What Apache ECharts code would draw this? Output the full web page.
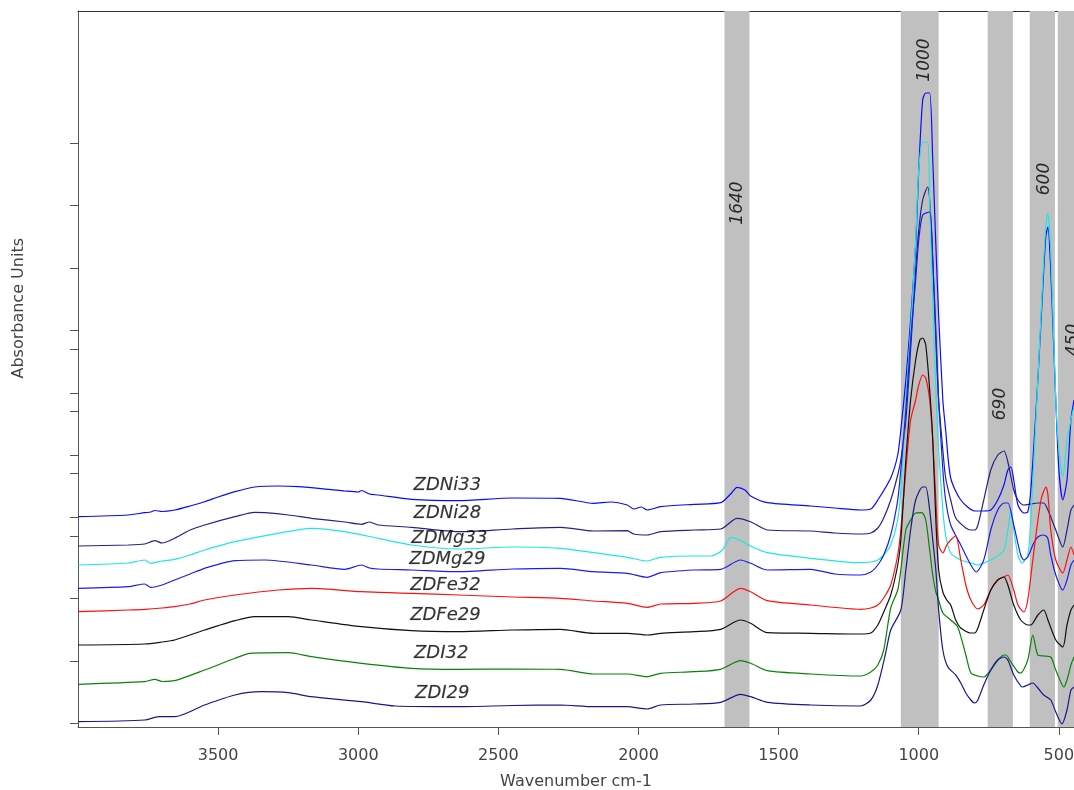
<!DOCTYPE html>
<html><head><meta charset="utf-8">
<script src="https://cdn.jsdelivr.net/npm/echarts@6/dist/echarts.min.js"></script>
<style>html,body{margin:0;padding:0;background:#fff}#c{width:1074px;height:790px}</style>
</head><body><div id="c"></div>
<script>
// wavenumber (cm-1), absorbance (arbitrary units, offset stacked)
const ZDNi33 = [[4000,210.3],[3821,212],[3762,214.3],[3740,215],[3726,216.5],[3700,215.5],[3655,217],[3600,221],[3548,225.3],[3500,230],[3440,235.3],[3369,240],[3286,241],[3214,240.3],[3107,237.7],[3048,236],[3000,235],[2988,236.5],[2960,233],[2929,232],[2810,227.7],[2643,226.3],[2450,229],[2279,228.7],[2160,223.7],[2100,225],[2040,222],[2017,218],[1990,220],[1969,217],[1921,220.3],[1802,222.7],[1707,224.3],[1671,233],[1648,239.7],[1620,237],[1600,231],[1540,224.3],[1386,221],[1300,219],[1207,217],[1171,218],[1146,227],[1100,249],[1075,272],[1064,297],[1046,347],[1029,407],[1011,482],[1000,557],[986,627],[975,634],[961,634],[950,567],[939,482],[929,412],[914,327],[904,297],[886,249],[850,227],[800,216],[768,216],[743,217],[718,227],[696,242],[682,257],[671,260],[661,247],[646,222],[625,214],[611,215],[600,237],[575,347],[554,457],[546,492],[539,500],[529,457],[511,327],[500,257],[486,227],[471,247],[457,307],[446,327]];
const ZDNi28 = [[4000,181],[3821,182],[3762,183],[3726,186.3],[3700,184],[3655,188.7],[3600,197],[3548,202],[3440,210.3],[3369,214.7],[3333,214.3],[3250,212],[3167,208.7],[3048,205],[2988,202.7],[2960,205],[2929,202],[2810,199.7],[2643,195.3],[2450,198],[2279,199.7],[2160,196],[2040,196.3],[2017,193],[1969,192],[1921,195.3],[1802,197],[1707,198],[1648,208.7],[1600,205.3],[1540,197],[1386,196],[1300,194],[1207,193],[1171,194],[1146,199],[1125,209],[1100,227],[1075,252],[1064,267],[1046,307],[1029,377],[1011,457],[1000,497],[986,527],[968,540],[961,527],[950,467],[939,387],[929,327],[914,277],[904,249],[886,227],[868,209],[832,199],[814,197],[800,197],[789,202],[768,227],[743,257],[718,272],[696,276],[682,265],[661,237],[646,227],[625,222],[600,223],[575,224],[554,224],[539,217],[511,197],[486,180],[471,197],[457,217],[446,222]];
const ZDMg33 = [[4000,162],[3821,164],[3762,167],[3740,163.7],[3700,166],[3655,167.7],[3600,172],[3548,177],[3440,185.3],[3286,193.7],[3167,198.7],[3048,195.3],[2929,188.7],[2810,182],[2643,178],[2450,180],[2279,178.7],[2160,174.3],[2040,169.7],[1969,166],[1921,169.7],[1802,171],[1740,171],[1700,177],[1671,189.7],[1640,187],[1600,181],[1540,174.3],[1386,168.7],[1207,164.3],[1171,165],[1146,167],[1125,172],[1100,182],[1075,207],[1064,237],[1046,327],[1029,397],[1011,487],[1000,557],[986,585],[968,585],[961,527],[950,427],[939,337],[929,277],[914,217],[904,192],[886,174],[850,167],[814,164],[789,162],[768,164],[743,167],[718,171],[696,177],[682,197],[671,217],[661,197],[646,172],[632,164],[611,172],[600,207],[575,347],[554,467],[546,502],[540,514],[529,477],[511,327],[500,277],[486,250],[471,287],[457,307],[446,320]];
const ZDMg29 = [[4000,138.7],[3821,140.3],[3762,143],[3740,139.7],[3700,142],[3655,147],[3600,153],[3548,158.7],[3440,166.3],[3333,167],[3167,162],[3048,157.7],[2988,162],[2960,159],[2929,158],[2810,157],[2643,155.3],[2450,158],[2279,158.7],[2160,155.3],[2040,153.7],[1969,149.7],[1921,154.3],[1802,157],[1707,157.7],[1636,167],[1600,163.7],[1540,157],[1386,157.7],[1300,153],[1207,152],[1171,155],[1146,162],[1125,172],[1100,192],[1075,227],[1064,257],[1046,317],[1029,387],[1011,447],[1000,487],[986,512],[961,515],[950,467],[939,397],[929,327],[914,257],[904,227],[886,202],[850,182],[814,162],[795,155],[768,167],[743,197],[718,217],[696,224],[682,224],[661,202],[636,172],[625,167],[611,170],[593,182],[575,190],[554,192],[540,189],[529,172],[511,152],[486,137],[471,147],[457,162],[446,167]];
const ZDFe32 = [[4000,115.3],[3821,117],[3762,117.7],[3700,119],[3655,120.3],[3600,123],[3548,127],[3440,132],[3286,137],[3167,138.7],[2988,135.3],[2810,133.7],[2643,132],[2450,130],[2279,128.7],[2160,126],[2040,123.7],[1969,119.7],[1921,123],[1802,123.7],[1707,126],[1636,138.7],[1600,135.3],[1540,126.3],[1386,122],[1207,117.7],[1171,119],[1146,122],[1125,129],[1100,142],[1075,172],[1064,197],[1046,257],[1029,307],[1011,327],[1000,342],[986,352],[975,349],[961,327],[950,287],[939,227],[929,182],[914,174],[900,182],[886,187],[868,191],[850,167],[832,142],[814,127],[789,118],[768,122],[743,137],[718,147],[696,150],[682,152],[661,137],[646,122],[625,115],[611,127],[593,167],[564,227],[546,240],[539,232],[529,197],[511,167],[486,154],[471,167],[457,180],[446,172]];
const ZDFe29 = [[4000,82],[3762,83],[3700,85],[3655,87],[3548,97],[3440,106.3],[3369,110.3],[3250,110.3],[3167,107],[2988,100.3],[2810,96.3],[2643,95.3],[2450,97],[2279,97.7],[2160,93.7],[2040,93.7],[1969,92],[1921,93.7],[1802,95.3],[1707,97.7],[1636,107],[1600,103.7],[1540,94.3],[1386,93.7],[1207,93],[1171,94],[1146,102],[1125,115],[1100,132],[1075,162],[1064,187],[1046,267],[1029,327],[1011,367],[996,387],[986,389],[975,382],[961,337],[950,287],[939,207],[929,157],[914,135],[900,127],[886,122],[868,107],[850,99],[814,94],[800,94],[789,99],[768,117],[743,137],[718,147],[696,150],[682,142],[661,122],[636,107],[611,102],[600,102],[575,112],[554,117],[539,107],[511,87],[486,80],[471,102],[457,117],[446,122]];
const ZDI32 = [[4000,42.7],[3762,45.3],[3726,47.7],[3700,45.5],[3655,46.3],[3548,57],[3440,68.7],[3386,73.7],[3250,74.3],[3167,70.3],[2988,63.7],[2810,58.7],[2643,57.7],[2450,58],[2279,57.7],[2160,53],[2040,53],[1969,50.3],[1921,53.7],[1802,55.3],[1707,57.7],[1636,66.3],[1600,63.7],[1540,56.3],[1386,53],[1207,51],[1171,55],[1146,62],[1125,77],[1100,119],[1075,137],[1064,157],[1046,197],[1029,207],[1011,214],[989,214.3],[975,207],[961,177],[950,152],[939,135],[929,127],[914,114],[886,107],[861,100],[832,72],[814,54],[789,51],[768,50],[743,57],[718,67],[696,72],[689,72],[671,65],[646,55],[636,54],[611,67],[593,92],[575,72],[554,71],[529,70],[511,57],[482,40],[471,47],[457,62],[446,70]];
const ZDI29 = [[4000,5.3],[3762,7],[3712,10.3],[3655,10.3],[3548,22],[3440,32],[3345,35.3],[3250,34.3],[3167,30.3],[2988,25.3],[2869,21],[2643,20.3],[2450,21.5],[2279,22],[2160,20.3],[2040,20.3],[1969,18],[1921,22],[1802,23],[1707,24.7],[1636,32.7],[1600,30.3],[1540,24.7],[1386,22],[1207,21],[1171,27],[1146,42],[1118,74],[1100,97],[1064,117],[1046,157],[1029,197],[1011,227],[986,240],[975,240],[961,217],[950,187],[939,157],[929,117],[914,77],[896,60],[868,52],[850,44],[832,34],[814,27],[800,24],[789,27],[768,42],[743,57],[718,67],[696,70],[682,67],[661,52],[636,41],[629,40],[611,42],[593,44],[575,39],[554,32],[529,27],[511,15],[489,3],[471,17],[457,37],[446,40]];

const seriesNames = ['ZDNi33','ZDNi28','ZDMg33','ZDMg29','ZDFe32','ZDFe29','ZDI32','ZDI29'];
const seriesData = [ZDNi33, ZDNi28, ZDMg33, ZDMg29, ZDFe32, ZDFe29, ZDI32, ZDI29];
const seriesColors = ['#0a0aff','#22228c','#1ee6e6','#1c1cf0','#ff1010','#111111','#0a820a','#18188a'];
// label anchor for each spectrum name (wavenumber, absorbance)
const nameLabelPos = [[2682,242],[2682,214],[2675,189],[2682,168],[2689,142],[2689,112],[2704,74],[2700,34]];

// shaded bands (cm-1) and their labels
const bandFrom = [1693, 1064, 754, 604, 504];
const bandTo   = [1604,  929, 664, 514, 446];
const bandLabels = ['1640','1000','690','600','450'];
const bandLabelPos = [[1646,524],[979,667],[707,323],[550,548],[448,387]];

const xTicks = [3500,3000,2500,2000,1500,1000,500];
const yTicks = [584,522,459,397,378,334,316,272,254,210,191,129,66,4];

const chart = echarts.init(document.getElementById('c'), null, {renderer:'canvas'});
const FONT = 'DejaVu Sans';
const series = [];
series.push({
  type:'line', data:[], silent:true, z:1,
  markArea:{silent:true, itemStyle:{color:'#c0c0c0', opacity:1},
    data: bandFrom.map((f,i)=>[{xAxis:f},{xAxis:bandTo[i]}])}
});
seriesData.forEach((d,i)=>{
  series.push({type:'line', name:seriesNames[i], data:d, showSymbol:false, smooth:0.25,
    lineStyle:{color:seriesColors[i], width:1.2}, z:3, silent:true, animation:false});
});
series.push({type:'scatter', symbolSize:0, z:5, silent:true,
  data: bandLabelPos.map((p,i)=>({value:p, label:{formatter:bandLabels[i]}})),
  label:{show:true, position:'inside', rotate:90, fontFamily:FONT, fontStyle:'italic', fontSize:17, color:'#000'}});
series.push({type:'scatter', symbolSize:0, z:5, silent:true,
  data: nameLabelPos.map((p,i)=>({value:p, label:{formatter:seriesNames[i]}})),
  label:{show:true, position:'inside', fontFamily:FONT, fontStyle:'italic', fontSize:18, color:'#000',
    textBorderColor:'rgba(0,0,0,0.35)', textBorderWidth:0.4}});

chart.setOption({
  animation:false,
  backgroundColor:'#fff',
  grid:{left:78, top:11, right:0, bottom:63, containLabel:false, outerBoundsMode:'none'},
  xAxis:[{type:'value', inverse:true, min:446, max:4000, position:'bottom',
    name:'Wavenumber cm-1', nameLocation:'middle', nameGap:47,
    nameTextStyle:{fontFamily:FONT, fontSize:16, color:'#444'},
    axisLine:{show:true, lineStyle:{color:'#555', width:1}},
    axisTick:{show:true, length:8, customValues:xTicks, lineStyle:{color:'#555'}},
    axisLabel:{show:true, customValues:xTicks, margin:21, fontFamily:FONT, fontSize:16, color:'#444', formatter:(v)=>String(v)},
    splitLine:{show:false}},
   {type:'value', inverse:true, min:446, max:4000, position:'top',
    axisLine:{show:true, lineStyle:{color:'#333', width:1}},
    axisTick:{show:false}, axisLabel:{show:false}, splitLine:{show:false}}],
  yAxis:{type:'value', min:0, max:716,
    axisLine:{show:true, lineStyle:{color:'#555', width:1}},
    axisTick:{show:true, length:8, customValues:yTicks, lineStyle:{color:'#555'}},
    axisLabel:{show:false}, splitLine:{show:false}},
  graphic:[{type:'text', left:11, top:238, rotation:Math.PI/2,
    style:{text:'Absorbance Units', fontFamily:FONT, fontSize:16, fill:'#444'}}],
  series: series
});
</script></body></html>
